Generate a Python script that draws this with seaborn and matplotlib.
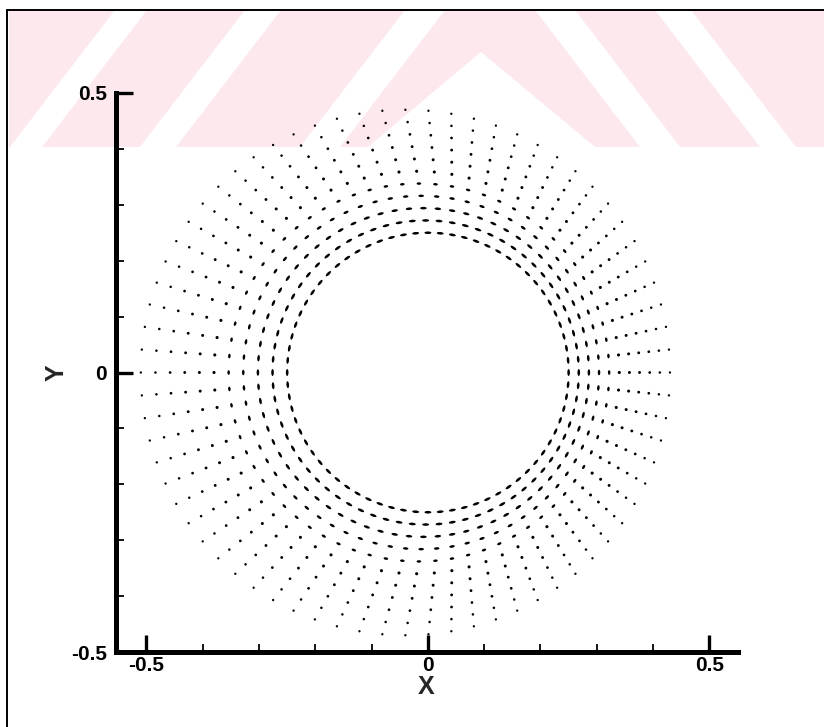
import numpy as np
import pandas as pd
import matplotlib
matplotlib.use("Agg")
import matplotlib.pyplot as plt
from matplotlib.path import Path
from matplotlib.markers import MarkerStyle
from matplotlib.transforms import Affine2D
from matplotlib.patches import Polygon
from matplotlib.lines import Line2D
from matplotlib.ticker import MultipleLocator
import seaborn as sns

# O-grid around the cylinder: straight grid lines joining the wall circle
# to the far-field circle, with equally spaced nodes along each line
N_AROUND = 72
N_RADIAL = 11
WALL_RADIUS = 0.25
WALL_CENTER = (0.0, 0.0)
FAR_RADIUS = 0.47
FAR_CENTER = (-0.04, 0.0)

X_TICKS = [-0.5, 0.0, 0.5]
X_TICK_LABELS = ["-0.5", "0", "0.5"]
Y_TICKS = [-0.5, 0.0, 0.5]
Y_TICK_LABELS = ["-0.5", "0", "0.5"]
MINOR_STEP = 0.1
X_LIMITS = (-0.555, 0.55)
Y_LIMITS = (-0.5, 0.5)

# ---- grid nodes -------------------------------------------------------------
theta = 2 * np.pi * np.arange(N_AROUND) / N_AROUND
frac = np.linspace(0.0, 1.0, N_RADIAL)
rows = []
for k, t in enumerate(theta):
    x0 = WALL_CENTER[0] + WALL_RADIUS * np.cos(t)
    y0 = WALL_CENTER[1] + WALL_RADIUS * np.sin(t)
    x1 = FAR_CENTER[0] + FAR_RADIUS * np.cos(t)
    y1 = FAR_CENTER[1] + FAR_RADIUS * np.sin(t)
    for j, f in enumerate(frac):
        rows.append({"ray": k, "ring": j, "theta": t,
                     "x": x0 + f * (x1 - x0), "y": y0 + f * (y1 - y0)})
nodes = pd.DataFrame(rows)

# ---- figure ----------------------------------------------------------------
sns.set_theme(style="ticks")
plt.rcParams["font.family"] = ["Liberation Sans", "DejaVu Sans"]

W, H = 824, 727
fig = plt.figure(figsize=(W / 100, H / 100), dpi=100)
fig.patch.set_facecolor("white")


def fx(px):
    return px / W


def fy(py):
    return 1 - py / H


# faint pink stamp across the top of the page
pink = "#fde9ed"
band_top, band_bot = 10, 147
fig.add_artist(Polygon([(fx(9), fy(band_top)), (fx(W), fy(band_top)),
                        (fx(W), fy(band_bot)), (fx(9), fy(band_bot))],
                       closed=True, transform=fig.transFigure,
                       facecolor=pink, edgecolor="none", zorder=-3))
slant = 105
for bx, w in [(10, 32), (140, 36), (300, 40)]:
    pts = [(bx, band_bot), (bx + w, band_bot),
           (bx + w + slant, band_top), (bx + slant, band_top)]
    fig.add_artist(Polygon([(fx(a), fy(b)) for a, b in pts], closed=True,
                           transform=fig.transFigure, facecolor="white",
                           edgecolor="none", zorder=-2))
for bx, w in [(640, 40), (760, 36)]:
    pts = [(bx, band_bot), (bx + w, band_bot),
           (bx + w - slant, band_top), (bx - slant, band_top)]
    fig.add_artist(Polygon([(fx(a), fy(b)) for a, b in pts], closed=True,
                           transform=fig.transFigure, facecolor="white",
                           edgecolor="none", zorder=-2))
fig.add_artist(Polygon([(fx(368), fy(band_bot)), (fx(481), fy(52)),
                        (fx(595), fy(band_bot))], closed=True,
                       transform=fig.transFigure, facecolor="white",
                       edgecolor="none", zorder=-2))

# page frame lines
fig.add_artist(Line2D([fx(7.5), fx(7.5)], [0, fy(9.5)], transform=fig.transFigure,
                      color="black", lw=1.4))
fig.add_artist(Line2D([fx(7.5), 1], [fy(9.5), fy(9.5)], transform=fig.transFigure,
                      color="black", lw=1.4))

ax = fig.add_axes([fx(115.5), fy(652), (737.5 - 115.5) / W, (652 - 93) / H])
ax.set_facecolor("none")

# inner rings: short dashes aligned with the ring direction
dash_rings = {0: (25, 0.38), 1: (25, 0.38), 2: (22, 0.40), 3: (16, 0.46), 4: (11, 0.55)}
base = np.linspace(0, 2 * np.pi, 25)
for k, t in enumerate(theta):
    sub = nodes[(nodes.ray == k) & (nodes.ring <= 4)]
    for j, (s, asp) in dash_rings.items():
        pts = sub[sub.ring == j]
        path = Path(np.column_stack([np.cos(base), asp * np.sin(base)]), closed=True)
        marker = MarkerStyle(path, transform=Affine2D().rotate(t + np.pi / 2))
        sns.scatterplot(data=pts, x="x", y="y", ax=ax, marker=marker, s=s,
                        color="black", edgecolor="none", linewidth=0, legend=False)

# outer rings: round dots that shrink outward
dot_size = {5: 5.0, 6: 4.6, 7: 4.2, 8: 3.8, 9: 3.3, 10: 2.8}
outer = nodes[nodes.ring >= 5].copy()
outer["s"] = outer.ring.map(dot_size)
sns.scatterplot(data=outer, x="x", y="y", ax=ax, s=outer["s"].to_numpy(),
                color="black", edgecolor="none", linewidth=0, legend=False)

ax.set_xlim(*X_LIMITS)
ax.set_ylim(*Y_LIMITS)
ax.set_xticks(X_TICKS, X_TICK_LABELS)
ax.set_yticks(Y_TICKS, Y_TICK_LABELS)
ax.xaxis.set_minor_locator(MultipleLocator(MINOR_STEP))
ax.yaxis.set_minor_locator(MultipleLocator(MINOR_STEP))
for side in ("top", "right"):
    ax.spines[side].set_visible(False)
for side in ("left", "bottom"):
    ax.spines[side].set_linewidth(3.6)
    ax.spines[side].set_color("black")
ax.tick_params(which="major", direction="in", length=12.5, width=2.4,
               color="black", labelsize=15, labelcolor="black")
ax.tick_params(axis="x", which="major", pad=3)
ax.tick_params(axis="y", which="major", pad=6)
ax.tick_params(which="minor", direction="in", length=6, width=1.3, color="black")
for lab in ax.get_xticklabels() + ax.get_yticklabels():
    lab.set_fontweight("bold")
ax.set_xlabel("X", fontsize=18, fontweight="bold", labelpad=0)
ax.set_ylabel("Y", fontsize=18, fontweight="bold", labelpad=2)
ax.grid(False)

fig.savefig("out.png", dpi=100)
